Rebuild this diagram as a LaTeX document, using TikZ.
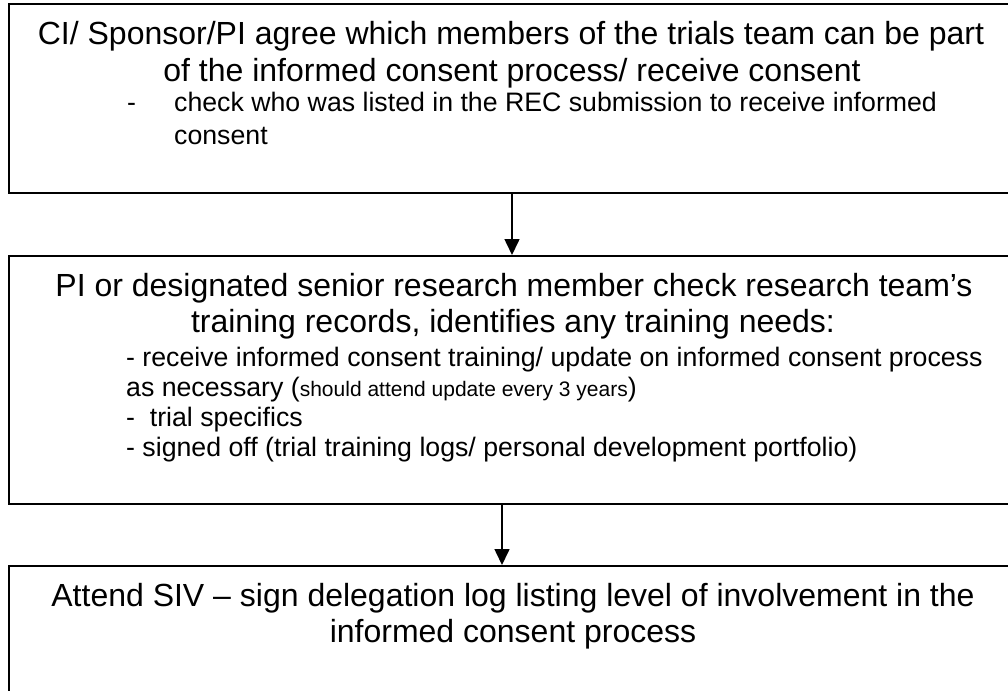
\documentclass[tikz,border=0pt]{standalone}
\usepackage{fontspec}
\setmainfont{Liberation Sans}
\usetikzlibrary{arrows.meta}
\tikzset{
  flowbox/.style={draw=black, line width=2pt, fill=none, rectangle, inner sep=0pt},
  maintext/.style={inner sep=0pt, anchor=base, font=\fontsize{32}{36}\selectfont},
  subtext/.style={inner sep=0pt, anchor=base west, font=\fontsize{26.7}{30}\selectfont},
  flowarrow/.style={line width=1.6pt, -{Triangle[length=16pt,width=15pt]}},
}
\begin{document}
\begin{tikzpicture}[x=1pt,y=-1pt]
\useasboundingbox (0,0) rectangle (1008,690);
% boxes (extend past the right and bottom edges like the reference)
\node[flowbox, minimum width=1011pt, minimum height=189pt] (b1) at (514.5,98.5) {};
\node[flowbox, minimum width=1011pt, minimum height=248pt] (b2) at (514.5,380) {};
\node[flowbox, minimum width=1011pt, minimum height=160pt] (b3) at (514.5,646) {};
% box 1 text
\node[maintext] (t11) at (511,45) {CI/ Sponsor/PI agree which members of the trials team can be part};
\node[maintext] (t12) at (512,81.5) {of the informed consent process/ receive consent};
\node[subtext] (t13d) at (127,111.7) {-};
\node[subtext] (t13) at (174,111.7) {check who was listed in the REC submission to receive informed};
\node[subtext] (t14) at (174,144) {consent};
% box 2 text
\node[maintext] (t21) at (514,296.7) {PI or designated senior research member check research team’s};
\node[maintext] (t22) at (513,332.7) {training records, identifies any training needs:};
\node[subtext] (t23) at (126,366) {- receive informed consent training/ update on informed consent process};
\node[subtext] (t24) at (126,396.7) {as necessary ({\fontsize{21}{22}\selectfont should attend update every 3 years})};
\node[subtext] (t25) at (126,426.7) {-\ \ trial specifics};
\node[subtext] (t26) at (126,456.7) {- signed off (trial training logs/ personal development portfolio)};
% box 3 text
\node[maintext] (t31) at (513,606.7) {Attend SIV – sign delegation log listing level of involvement in the};
\node[maintext] (t32) at (513,642.7) {informed consent process};
% connectors
\coordinate (a1) at (512,0);
\coordinate (a2) at (502,0);
\draw[flowarrow] (b1.south -| a1) -- (b2.north -| a1);
\draw[flowarrow] (b2.south -| a2) -- (b3.north -| a2);
\end{tikzpicture}
\end{document}
